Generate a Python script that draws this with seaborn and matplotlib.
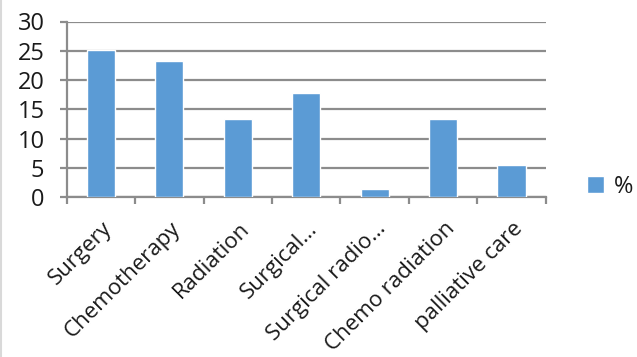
import matplotlib
matplotlib.use("Agg")
import matplotlib.pyplot as plt
import seaborn as sns
import pandas as pd
from matplotlib.patches import Patch
from matplotlib.lines import Line2D
from matplotlib.transforms import ScaledTranslation

categories = ["Surgery", "Chemotherapy", "Radiation", "Surgical…",
              "Surgical radio…", "Chemo radiation", "palliative care"]
values = [25.2, 23.2, 13.4, 17.8, 1.4, 13.4, 5.4]
yticks = [0, 5, 10, 15, 20, 25, 30]
series_name = "%"

sns.set_theme(style="white")
plt.rcParams["font.family"] = ["Open Sans", "DejaVu Sans"]

bar_color = "#5B9BD5"
grid_color = "#8C8C8C"
W, H = 637, 357

fig = plt.figure(figsize=(W / 100, H / 100), dpi=100)
x0, x1, ytop, ybot = 66.7, 545.7, 21.5, 197.0
ax = fig.add_axes([x0 / W, 1 - ybot / H, (x1 - x0) / W, (ybot - ytop) / H])

df = pd.DataFrame({"cat": categories, "val": values})
sns.barplot(data=df, x="cat", y="val", color=bar_color, width=0.41,
            saturation=1, ax=ax, zorder=3)

ax.set_ylim(0, 30)
ax.set_xlim(-0.5, len(categories) - 0.5)
ax.set_yticks(yticks)
ax.set_yticklabels([str(t) for t in yticks], fontsize=17, color="#1a1a1a")
ax.yaxis.grid(True, color=grid_color, linewidth=1.6, zorder=0)
ax.set_axisbelow(True)

for s in ["top", "right"]:
    ax.spines[s].set_visible(False)
for s in ["left", "bottom"]:
    ax.spines[s].set_color(grid_color)
    ax.spines[s].set_linewidth(1.6)

ax.tick_params(axis="y", length=5, width=1.6, color=grid_color, pad=11,
               left=True)
# category separators as x ticks
ax.set_xticks([i - 0.5 for i in range(len(categories) + 1)], minor=False)
ax.set_xticklabels([""] * (len(categories) + 1))
ax.tick_params(axis="x", which="major", length=5, width=1.6,
               color=grid_color, bottom=True)
ax.set_xticks(range(len(categories)), minor=True)
ax.set_xticklabels(categories, minor=True, rotation=45, ha="right",
                   va="top", rotation_mode="anchor", fontsize=16,
                   color="#1a1a1a")
ax.tick_params(axis="x", which="minor", length=0, pad=15)
for lab in ax.get_xticklabels(minor=True):
    lab.set_transform(lab.get_transform() +
                      ScaledTranslation(1 / 100, 0, fig.dpi_scale_trans))
ax.set_xlabel("")
ax.set_ylabel("")

fig.legend(handles=[Patch(facecolor=bar_color, label=series_name)],
           loc="center left", bbox_to_anchor=(587 / W, 1 - 187 / H),
           frameon=False, fontsize=17, handlelength=0.7,
           handleheight=0.7, handletextpad=0.45, borderpad=0,
           borderaxespad=0, labelcolor="#1a1a1a")

fig.lines.append(Line2D([1 / W, 1 / W], [0, 1], transform=fig.transFigure,
                        color="#D9D9D9", linewidth=1.5))

fig.savefig("out.png", dpi=100)
